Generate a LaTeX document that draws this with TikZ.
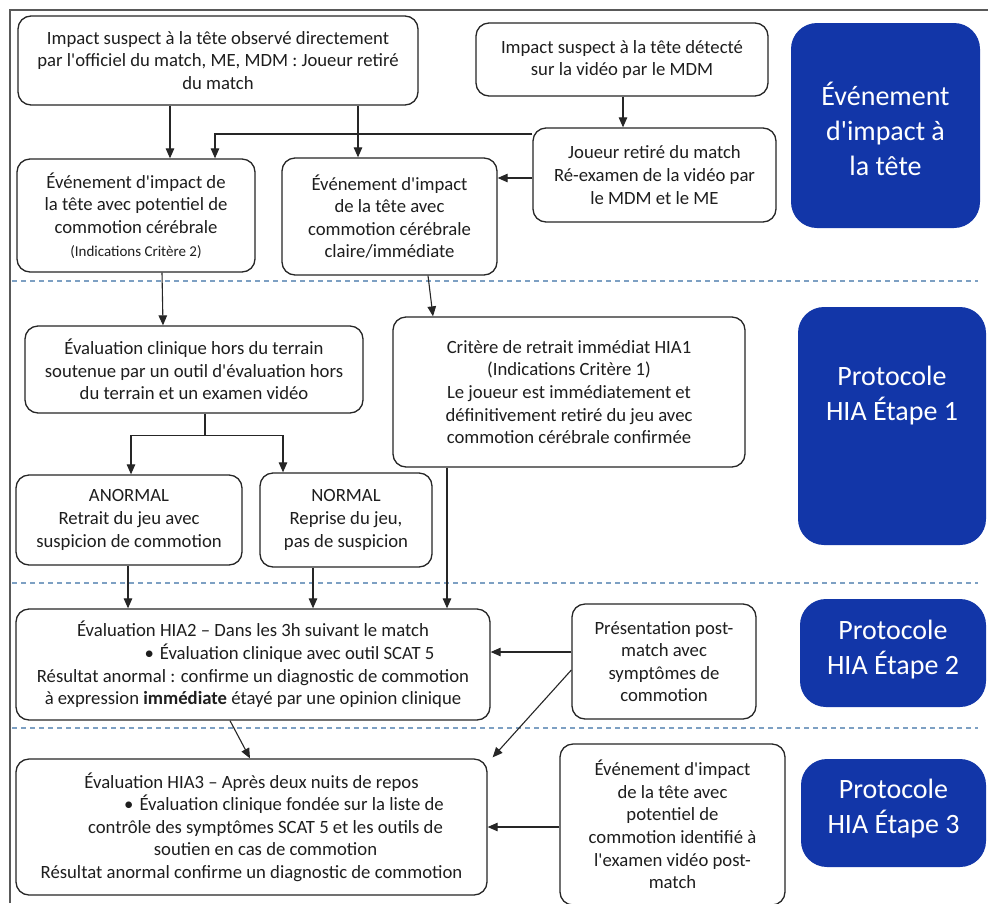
\documentclass[tikz,border=0pt]{standalone}
\usepackage{fontspec}
\setmainfont{Carlito}[Ligatures=TeXOff]
\usetikzlibrary{arrows.meta,calc}
\definecolor{hiablue}{RGB}{18,54,168}
\definecolor{dashc}{RGB}{125,160,195}
\definecolor{txt}{RGB}{30,30,30}
\begin{document}
\begin{tikzpicture}[x=1pt,y=-1pt,
 box/.style={draw=black!85, line width=1.3pt, rounded corners=13pt, fill=white, align=center, inner sep=0pt, text=txt, font=\fontsize{18.7}{22.6}\selectfont},
 bluebox/.style={fill=hiablue, draw=none, rounded corners=26pt, inner sep=0pt},
 bluetext/.style={text=white, align=center, inner sep=0pt, font=\fontsize{28}{35}\selectfont},
 arr/.style={draw=black!85, line width=1.1pt, -{Triangle[length=10pt,width=8.5pt]}},
 link/.style={draw=black!85, line width=1.1pt},
 sep/.style={draw=dashc, line width=1.2pt, dash pattern=on 5pt off 4pt},
 frame/.style={draw=black!65, line width=2pt}
]
\useasboundingbox (0,0) rectangle (988,903);
\fill[white] (0,0) rectangle (988,903);
\draw[frame] (10,903) -- (10,10) -- (988,10);
\draw[sep] (12,281) -- (978,281);
\draw[sep] (12,583) -- (978,583);
\draw[sep] (12,728) -- (978,728);

% row 1
\node[box, minimum width=400pt, minimum height=89pt] (b1) at (218,60.5)
 {Impact suspect à la tête observé directement\\par l'officiel du match, ME, MDM : Joueur retiré\\du match};
\node[box, minimum width=292pt, minimum height=73pt] (b2) at (622,59.5)
 {Impact suspect à la tête détecté\\sur la vidéo par le MDM};
\node[box, minimum width=243pt, minimum height=94pt] (b4) at (654.5,175)
 {Joueur retiré du match\\Ré-examen de la vidéo par\\le MDM et le ME};
\node[box, minimum width=238pt, minimum height=113pt] (b5) at (136,215.5)
 {Événement d'impact de\\la tête avec potentiel de\\commotion cérébrale\\{\fontsize{15}{18}\selectfont (Indications Critère 2)}};
\node[box, minimum width=215pt, minimum height=117pt] (b6) at (389.5,216.5)
 {Événement d'impact\\de la tête avec\\commotion cérébrale\\claire/immédiate};
\node[bluebox, minimum width=189pt, minimum height=205pt] (e1) at (885.5,125.5) {};
\node[bluetext] (e1t) at (885.5,129) {Événement\\d'impact à\\la tête};

% row 2
\node[box, minimum width=338pt, minimum height=87pt] (b7) at (194,369.5)
 {Évaluation clinique hors du terrain\\soutenue par un outil d'évaluation hors\\du terrain et un examen vidéo};
\node[box, minimum width=352pt, minimum height=150pt] (b8) at (569,392)
 {Critère de retrait immédiat HIA1\\(Indications Critère 1)\\Le joueur est immédiatement et\\définitivement retiré du jeu avec\\commotion cérébrale confirmée};
\node[bluebox, minimum width=188pt, minimum height=238pt] (e2) at (892,426) {};
\node[bluetext] (e2t) at (892,396) {Protocole\\HIA Étape 1};
\node[box, minimum width=226pt, minimum height=90pt] (b10) at (129,520)
 {ANORMAL\\Retrait du jeu avec\\suspicion de commotion};
\node[box, minimum width=172pt, minimum height=94pt] (b11) at (346,520)
 {NORMAL\\Reprise du jeu,\\pas de suspicion};

% row 3
\node[box, minimum width=474pt, minimum height=111pt] (b12) at (253,664.5)
 {Évaluation HIA2 – Dans les 3h suivant le match\\\hspace*{73pt}•\hspace{6pt}Évaluation clinique avec outil SCAT 5\\Résultat anormal : confirme un diagnostic de commotion\\à expression \textbf{immédiate} étayé par une opinion clinique};
\node[box, minimum width=184pt, minimum height=115pt] (b13) at (664,661.5)
 {Présentation post-\\match avec\\symptômes de\\commotion};
\node[bluebox, minimum width=186pt, minimum height=108pt] (e3) at (893,653) {};
\node[bluetext] (e3t) at (893,650) {Protocole\\HIA Étape 2};

% row 4
\node[box, minimum width=471pt, minimum height=136pt] (b14) at (251.5,827)
 {Évaluation HIA3 – Après deux nuits de repos\\\hspace*{65pt}•\hspace{6pt}Évaluation clinique fondée sur la liste de\\\hspace*{28pt}contrôle des symptômes SCAT 5 et les outils de\\\hspace*{28pt}soutien en cas de commotion\\Résultat anormal confirme un diagnostic de commotion};
\node[box, minimum width=225pt, minimum height=161pt] (b15) at (672.5,824.5)
 {Événement d'impact\\de la tête avec\\potentiel de\\commotion identifié à\\l'examen vidéo post-\\match};
\node[bluebox, minimum width=185pt, minimum height=108pt] (e4) at (893.5,813) {};
\node[bluetext] (e4t) at (893.5,809) {Protocole\\HIA Étape 3};

% connectors
\draw[arr] ([xshift=-48pt]b1.south) -- ([xshift=34pt]b5.north);
\draw[arr] ([xshift=140pt]b1.south) -- ([xshift=-31.5pt]b6.north);
\draw[arr] ([xshift=1pt]b2.south) -- ([xshift=-31.5pt]b4.north);
\coordinate (c4s) at ([yshift=41pt]b4.west);
\draw[arr] (c4s) -| ([xshift=79pt]b5.north);
\coordinate (c5s) at ([yshift=-3pt]b4.west);
\draw[arr] (c5s) -- (c5s -| b6.east);
\draw[arr] ([xshift=26pt]b5.south) -- ([xshift=-31pt]b7.north);
\draw[arr] ([xshift=38.5pt]b6.south) -- ([xshift=-136pt]b8.north);
\draw[link] ([xshift=11pt]b7.south) -- ++(0,22) coordinate (j);
\draw[arr] (j) -| ([xshift=2pt]b10.north);
\draw[arr] (j) -| ([xshift=-63pt]b11.north);
\draw[arr] ([xshift=-1pt]b10.south) -- ([xshift=-125pt]b12.north);
\draw[arr] ([xshift=-33pt]b11.south) -- ([xshift=60pt]b12.north);
\draw[arr] ([xshift=-122pt]b8.south) -- ([xshift=194pt]b12.north);
\coordinate (c12s) at ([yshift=9.5pt]b13.west);
\draw[arr] (c12s) -- (c12s -| b12.east);
\coordinate (c13s) at ([yshift=-8.5pt]b13.west);
\draw[arr] (c13s) -- ([shift={(5pt,1pt)}]b14.north east);
\draw[arr] ([xshift=-23pt]b12.south) -- ([xshift=-1.5pt]b14.north);
\coordinate (c15s) at ([yshift=-2.5pt]b15.west);
\draw[arr] (c15s) -- (c15s -| b14.east);
\end{tikzpicture}
\end{document}
